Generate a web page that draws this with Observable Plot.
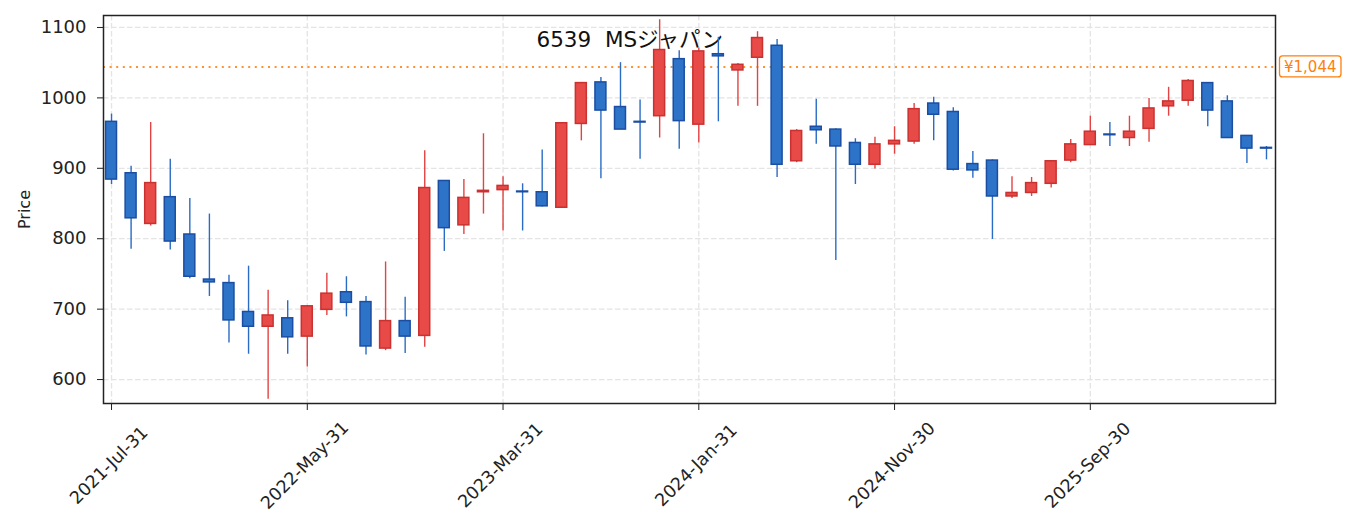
<!DOCTYPE html>
<html><head><meta charset="utf-8">
<script src="https://cdn.jsdelivr.net/npm/d3@7"></script>
<script src="https://cdn.jsdelivr.net/npm/@observablehq/plot@0.6"></script>
<style>
body{margin:0;background:#fff;}
#chart{width:1353px;height:531px;}
</style></head><body><div id="chart"></div>
<script>
const dates = [
"2021-07-31","2021-08-31","2021-09-30","2021-10-31","2021-11-30","2021-12-31",
"2022-01-31","2022-02-28","2022-03-31","2022-04-30","2022-05-31","2022-06-30","2022-07-31","2022-08-31","2022-09-30","2022-10-31","2022-11-30","2022-12-31",
"2023-01-31","2023-02-28","2023-03-31","2023-04-30","2023-05-31","2023-06-30","2023-07-31","2023-08-31","2023-09-30","2023-10-31","2023-11-30","2023-12-31",
"2024-01-31","2024-02-29","2024-03-31","2024-04-30","2024-05-31","2024-06-30","2024-07-31","2024-08-31","2024-09-30","2024-10-31","2024-11-30","2024-12-31",
"2025-01-31","2025-02-28","2025-03-31","2025-04-30","2025-05-31","2025-06-30","2025-07-31","2025-08-31","2025-09-30","2025-10-31","2025-11-30","2025-12-31",
"2026-01-31","2026-02-28","2026-03-31","2026-04-30","2026-05-31","2026-06-30"];
const open  = [966,893,821,859,806,742,737,696,675,687,661,699,724,710,644,683,662,882,819,866,869,867,866,844,963,1022,987,966,974,1055,962,1062,1039,1057,1074,910,959,955,936,905,934,938,992,980,906,911,860,865,878,911,933,948,943,956,988,996,1021,995,946,929];
const high  = [977,903,965,913,857,835,748,761,727,712,705,751,746,718,767,717,925,882,884,949,888,878,926,965,1022,1029,1050,997,1111,1067,1071,1086,1049,1094,1083,955,998,956,942,944,959,992,1001,986,924,912,888,887,911,941,974,965,974,999,1015,1026,1021,1003,946,931];
const low   = [877,785,818,784,743,718,652,636,572,636,618,691,689,635,641,637,646,782,806,835,811,811,845,843,939,885,955,913,943,927,936,966,988,988,887,908,934,769,877,899,920,934,939,896,886,799,857,860,872,908,933,931,931,937,974,988,959,943,907,912];
const close = [884,829,879,796,746,738,684,675,691,660,704,722,709,647,683,661,872,815,858,868,875,866,846,964,1021,982,955,965,1068,967,1066,1059,1047,1085,905,953,954,931,905,934,939,984,976,898,897,860,865,879,910,934,952,947,952,985,995,1024,982,943,928,928];
const tickDates  = ["2021-07-31","2022-05-31","2023-03-31","2024-01-31","2024-11-30","2025-09-30"];
const tickLabels = ["2021-Jul-31","2022-May-31","2023-Mar-31","2024-Jan-31","2024-Nov-30","2025-Sep-30"];
const yTicks = [600,700,800,900,1000,1100];
const title = "6539  MSジャパン";
const yLabel = "Price";
const currentPrice = 1044;
const currentLabel = "¥1,044";

const FONT = '"DejaVu Sans", "Noto Sans CJK JP", sans-serif';
const RED_FILL = "#e84a48", RED_STROKE = "#c93230", RED_WICK = "#e34343";
const BLUE_FILL = "#2d73c8", BLUE_STROKE = "#1b4ea2", BLUE_WICK = "#2a6cc5";
const ORANGE = "#ff7f0e";

const data = dates.map((d, i) => ({i, date: d, open: open[i], high: high[i], low: low[i], close: close[i], up: close[i] > open[i]}));
const ticks = tickDates.map((d, k) => ({i: dates.indexOf(d), label: tickLabels[k]}));
const half = 0.28;

function priceBox(index, scales, values, dims) {
  const y = scales.y(currentPrice);
  const x0 = dims.width - dims.marginRight + 4.5;
  const fs = 15;
  const ctx = document.createElement("canvas").getContext("2d");
  ctx.font = `${fs}px "DejaVu Sans"`;
  const w = ctx.measureText(currentLabel).width;
  const g = d3.create("svg:g");
  g.append("rect").attr("x", x0).attr("y", y - 10.5).attr("width", w + 9).attr("height", 21)
    .attr("rx", 3).attr("fill", "white").attr("stroke", ORANGE).attr("stroke-width", 1.3);
  g.append("text").attr("x", x0 + 4.5).attr("y", y).attr("dy", "0.36em").attr("text-anchor", "start")
    .attr("fill", ORANGE).attr("font-size", fs).attr("font-family", FONT).text(currentLabel);
  return g.node();
}

const chart = Plot.plot({
  width: 1353, height: 531,
  marginLeft: 103, marginRight: 78, marginTop: 15, marginBottom: 128,
  style: {fontFamily: FONT, fontSize: "18px", background: "white", color: "#222", overflow: "visible"},
  x: {type: "linear", domain: [-0.41, 59.46], axis: null},
  y: {domain: [566, 1117], axis: null},
  color: {type: "identity"},
  marks: [
    Plot.gridY(yTicks, {stroke: "#e4e4e4", strokeOpacity: 1, strokeWidth: 1.3, strokeDasharray: "5.5,2.5"}),
    Plot.gridX(ticks.map(t => t.i), {stroke: "#e4e4e4", strokeOpacity: 1, strokeWidth: 1.3, strokeDasharray: "5.5,2.5"}),
    Plot.text([title], {frameAnchor: "top-left", dx: 433, dy: 16.4, lineAnchor: "top", textAnchor: "start", fontSize: 21.5, fill: "#111"}),
    Plot.ruleY([currentPrice], {stroke: ORANGE, strokeOpacity: 0.85, strokeWidth: 2, strokeDasharray: "2,4.6"}),
    Plot.ruleX(data, {x: "i", y1: "low", y2: "high", stroke: d => d.up ? RED_WICK : BLUE_WICK, strokeWidth: 1.4}),
    Plot.rect(data, {x1: d => d.i - half, x2: d => d.i + half, y1: "open", y2: "close",
      fill: d => d.up ? RED_FILL : BLUE_FILL, stroke: d => d.up ? RED_STROKE : BLUE_STROKE, strokeWidth: 1.5}),
    Plot.axisY(yTicks, {tickSize: 6, tickPadding: 11, fontSize: 18, label: null, fill: "#222", stroke: "#222", tickFormat: d => String(d)}),
    Plot.axisX(ticks.map(t => t.i), {tickSize: 7, tickFormat: () => "", label: null, stroke: "#222"}),
    Plot.text(ticks, {x: "i", text: "label", frameAnchor: "bottom", rotate: -45, textAnchor: "middle", lineAnchor: "middle", dx: -2.5, dy: 62, fontSize: 17.5, fill: "#222"}),
    Plot.text([yLabel], {frameAnchor: "left", dx: -78.5, rotate: -90, textAnchor: "middle", lineAnchor: "middle", fontSize: 16, fill: "#222"}),
    Plot.frame({stroke: "#222", strokeWidth: 1.5}),
    priceBox
  ]
});
document.getElementById("chart").appendChild(chart);
</script></body></html>
